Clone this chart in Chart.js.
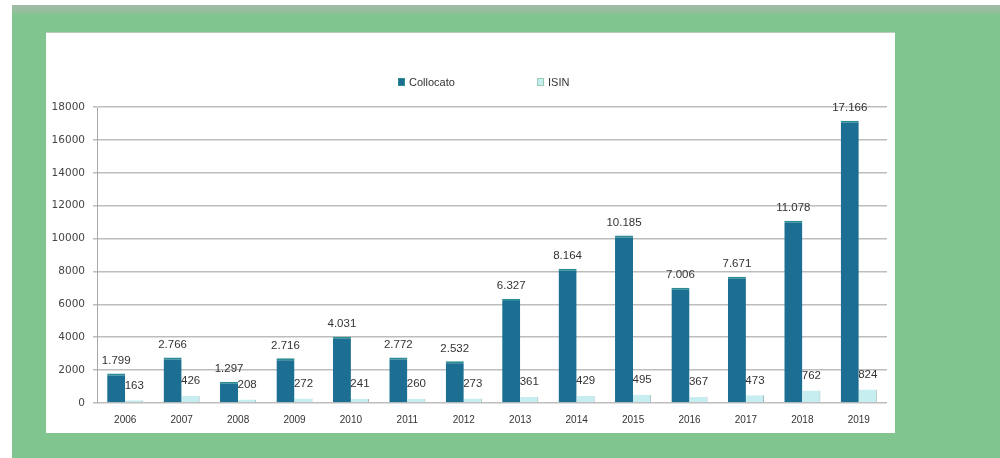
<!DOCTYPE html>
<html>
<head>
<meta charset="utf-8">
<script src="https://cdn.jsdelivr.net/npm/chart.js@4.4.1/dist/chart.umd.min.js"></script>
<style>
  html, body { margin: 0; padding: 0; background: #fff; }
  body { width: 1000px; height: 458px; position: relative; overflow: hidden; }
  #frame {
    position: absolute; left: 12px; top: 5px; width: 988px; height: 453px;
    background: linear-gradient(#a3bba8 0px, #93bf9b 7px, #80c58f 10px, #80c58f 100%);
  }
  #panel {
    position: absolute; left: 46px; top: 33px; width: 849px; height: 400px;
    background: #fff; box-shadow: 0 -1px 0 #b9cbbb;
  }
</style>
</head>
<body>
<div id="frame"></div>
<div id="panel"><canvas id="chart" width="849" height="400"></canvas></div>
<script>
// years on the x axis
const years = ['2006','2007','2008','2009','2010','2011','2012','2013','2014','2015','2016','2017','2018','2019'];
// values
const collocato = [1799, 2766, 1297, 2716, 4031, 2772, 2532, 6327, 8164, 10185, 7006, 7671, 11078, 17166];
const isin = [163, 426, 208, 272, 241, 260, 273, 361, 429, 495, 367, 473, 762, 824];
const seriesNames = ['Collocato', 'ISIN'];
const seriesColors = ['#1c6f92', '#c6edef'];

// italian style thousands: 1.799
const fmt = v => String(v).replace(/\B(?=(\d{3})+(?!\d))/g, '.');

// value labels above every bar
const valueLabels = {
  id: 'valueLabels',
  afterDatasetsDraw(chart) {
    const ctx = chart.ctx;
    ctx.save();
    ctx.font = '11.5px "Liberation Sans", Arial, sans-serif';
    ctx.fillStyle = '#333';
    ctx.textAlign = 'center';
    ctx.textBaseline = 'bottom';
    chart.data.datasets.forEach((ds, i) => {
      chart.getDatasetMeta(i).data.forEach((bar, j) => {
        ctx.fillText(fmt(ds.data[j]), bar.x, bar.y - (i === 0 ? 7 : 9));
      });
    });
    ctx.restore();
  }
};

// legend drawn above the plot, spread like the original
const topLegend = {
  id: 'topLegend',
  afterDraw(chart) {
    const ctx = chart.ctx;
    const a = chart.chartArea;
    const mid = (a.left + a.right) / 2;
    const y = a.top - 25;
    const offsets = [-94, 45];
    ctx.save();
    ctx.font = '11px "Liberation Sans", Arial, sans-serif';
    ctx.textBaseline = 'middle';
    seriesNames.forEach((name, i) => {
      const x = mid + offsets[i];
      ctx.fillStyle = seriesColors[i];
      ctx.fillRect(x, y - 4, 7, 8);
      ctx.strokeStyle = i === 0 ? '#2a8f8f' : '#9cc9b4';
      ctx.lineWidth = 1;
      ctx.strokeRect(x + 0.5, y - 3.5, 6, 7);
      ctx.fillStyle = '#333';
      ctx.fillText(name, x + 11, y + 1);
    });
    ctx.restore();
  }
};

const ctx = document.getElementById('chart').getContext('2d');
new Chart(ctx, {
  type: 'bar',
  data: {
    labels: years,
    datasets: [
      {
        label: seriesNames[0],
        data: collocato,
        backgroundColor: seriesColors[0],
        borderColor: '#2b8c93',
        borderWidth: { top: 2, left: 0, right: 0, bottom: 0 },
        barPercentage: 1,
        categoryPercentage: 0.64
      },
      {
        label: seriesNames[1],
        data: isin,
        backgroundColor: seriesColors[1],
        borderColor: '#9fb9b9',
        borderWidth: { top: 0, left: 0, right: 1, bottom: 0 },
        barPercentage: 1,
        categoryPercentage: 0.64
      }
    ]
  },
  options: {
    responsive: false,
    animation: false,
    layout: { padding: { top: 74, right: 8, left: 0, bottom: 0 } },
    plugins: {
      legend: { display: false },
      tooltip: { enabled: false }
    },
    scales: {
      x: {
        grid: { display: false, drawTicks: false },
        border: { display: false },
        ticks: {
          padding: 11,
          color: '#333',
          font: { family: '"Liberation Sans", Arial, sans-serif', size: 10 }
        },
        afterFit: s => { s.height = 30; }
      },
      y: {
        min: 0,
        max: 18000,
        ticks: {
          stepSize: 2000,
          padding: 8,
          color: '#444',
          font: { family: '"DejaVu Sans", sans-serif', size: 10.5 },
          callback: v => String(v)
        },
        grid: { color: '#bdbdbd', lineWidth: 1.5, tickLength: 4 },
        border: { color: '#a8a8a8', width: 1 },
        afterFit: s => { s.width = 51; }
      }
    }
  },
  plugins: [valueLabels, topLegend]
});
</script>
</body>
</html>
